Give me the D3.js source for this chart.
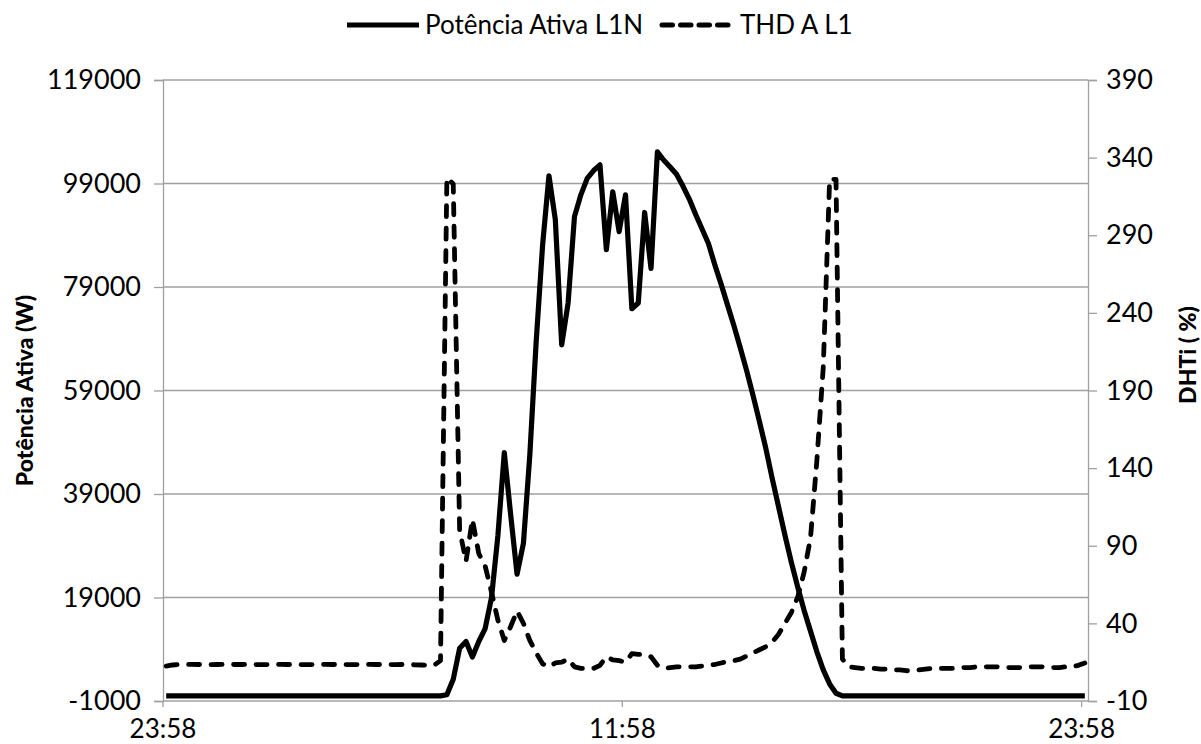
<!DOCTYPE html>
<html>
<head>
<meta charset="utf-8">
<script src="https://cdn.jsdelivr.net/npm/d3@7"></script>
<style>
  html, body { margin: 0; padding: 0; background: #ffffff; }
  svg { display: block; }
  text { font-family: Lato, "Open Sans", sans-serif; fill: #000; }
</style>
</head>
<body>
<svg id="chart" width="1201" height="744"></svg>
<script>
// Active power L1N (W), one reading every 10 minutes starting at 23:58
const powerL1N = [
  0, 0, 0, 0, 0, 0, 0, 0, 0, 0,
  0, 0, 0, 0, 0, 0, 0, 0, 0, 0,
  0, 0, 0, 0, 0, 0, 0, 0, 0, 0,
  0, 0, 0, 0, 0, 0, 0, 0, 0, 0,
  0, 0, 0, 0, 200, 3200, 9200, 10500, 7500, 10500,
  13000, 19000, 31000, 47000, 35000, 23500, 29500, 46500, 68500, 87000,
  100500, 92000, 67800, 75900, 92600, 96800, 100000, 101500, 102600, 86200,
  97400, 89700, 96800, 74800, 75900, 93400, 82600, 105100, 103500, 102200,
  100800, 98500, 96000, 93000, 90200, 87400, 83300, 79500, 75500, 71500,
  67200, 62800, 58000, 53000, 47800, 42000, 36500, 31000, 25800, 21000,
  16500, 12500, 8500, 5000, 2300, 500, 0, 0, 0, 0,
  0, 0, 0, 0, 0, 0, 0, 0, 0, 0,
  0, 0, 0, 0, 0, 0, 0, 0, 0, 0,
  0, 0, 0, 0, 0, 0, 0, 0, 0, 0,
  0, 0, 0, 0, 0
];

// Current THD on L1 (%), same 10-minute readings
const thdAL1 = [
  12.5, 13.2, 13.5, 13.5, 13.6, 13.5, 13.5, 13.4, 13.5, 13.6,
  13.5, 13.5, 13.5, 13.6, 13.5, 13.4, 13.5, 13.5, 13.6, 13.5,
  13.5, 13.5, 13.4, 13.5, 13.5, 13.6, 13.5, 13.5, 13.5, 13.4,
  13.5, 13.5, 13.6, 13.5, 13.5, 13.5, 13.4, 13.5, 13.5, 13.3,
  13.2, 13.0, 13.0, 16, 327, 323, 100, 80, 107, 85,
  77, 60, 42, 29, 38, 48, 40, 29, 21, 14,
  12, 14.5, 15, 17, 12, 11, 11, 11, 13, 18.5,
  16.5, 16, 15, 20.5, 20, 20, 18.5, 13, 11, 11.5,
  12, 12, 12, 12, 12.5, 13, 13.5, 14.5, 15.5, 16,
  17, 19, 21, 23, 25, 28, 33, 40, 47, 57,
  73, 95, 145, 205, 326, 326, 17, 12, 11.5, 11,
  11, 11, 10.5, 10.5, 10, 10, 9.5, 9.5, 10, 10.5,
  11, 11, 11, 11, 11, 11.5, 11.5, 12, 12, 12,
  12, 12, 11.5, 11.5, 11.5, 12, 12, 12, 12, 11.5,
  11.5, 12, 12, 13, 14.5
];

// Axis ticks
const timeTickIndex = [0, 72, 144];
const timeTickLabels = ["23:58", "11:58", "23:58"];
const powerTicks = [-1000, 19000, 39000, 59000, 79000, 99000, 119000];
const thdTicks = [-10, 40, 90, 140, 190, 240, 290, 340, 390];

const seriesNames = ["Potência Ativa L1N", "THD A L1"];
const leftTitle = "Potência Ativa (W)";
const rightTitle = "DHTi ( %)";

const svg = d3.select("#chart");
const W = 1201, H = 744;
const plot = { left: 163, right: 1088, top: 80, bottom: 701 };
const gridColor = "#a0a0a0";
const tickFont = 27;

svg.append("rect").attr("width", W).attr("height", H).attr("fill", "#fff");

const idx = d3.range(powerL1N.length);
const x = d3.scaleBand().domain(idx).range([plot.left, plot.right]).padding(0);
const xc = i => x(i) + x.bandwidth() / 2;
const yL = d3.scaleLinear().domain([-1000, 119000]).range([plot.bottom, plot.top]);
const yR = d3.scaleLinear().domain([-10, 390]).range([plot.bottom, plot.top]);

// Plain integer labels with an ASCII hyphen for negatives
const intLabel = d => String(Math.round(d));

// Horizontal gridlines on the power scale
svg.append("g")
  .selectAll("line")
  .data(powerTicks.slice(1))
  .join("line")
  .attr("x1", plot.left).attr("x2", plot.right)
  .attr("y1", d => yL(d)).attr("y2", d => yL(d))
  .attr("stroke", gridColor).attr("stroke-width", 1.3);

// Left axis
const leftAxis = svg.append("g")
  .attr("transform", `translate(${plot.left},0)`)
  .call(d3.axisLeft(yL).tickValues(powerTicks).tickSize(9).tickPadding(13).tickFormat(intLabel));

// Right axis
const rightAxis = svg.append("g")
  .attr("transform", `translate(${plot.right},0)`)
  .call(d3.axisRight(yR).tickValues(thdTicks).tickSize(9).tickPadding(9).tickFormat(intLabel));

// Bottom axis: ticks at category boundaries, labels under them
const bottomAxis = svg.append("g")
  .attr("transform", `translate(0,${plot.bottom})`);
bottomAxis.append("line")
  .attr("x1", plot.left).attr("x2", plot.right)
  .attr("stroke", gridColor).attr("stroke-width", 1.3);
bottomAxis.selectAll("line.tick")
  .data(timeTickIndex)
  .join("line")
  .attr("class", "tick")
  .attr("x1", d => x(d)).attr("x2", d => x(d))
  .attr("y1", 0).attr("y2", 6)
  .attr("stroke", gridColor).attr("stroke-width", 1.3);
bottomAxis.selectAll("text")
  .data(timeTickIndex)
  .join("text")
  .attr("x", d => x(d))
  .attr("y", 37)
  .attr("text-anchor", "middle")
  .attr("font-size", 26)
  .text((d, i) => timeTickLabels[i]);

[leftAxis, rightAxis].forEach(g => {
  g.select(".domain").attr("stroke", gridColor).attr("stroke-width", 1.3);
  g.selectAll(".tick line").attr("stroke", gridColor).attr("stroke-width", 1.3);
  g.selectAll(".tick text").attr("font-size", tickFont).attr("fill", "#000")
    .style("font-family", "Lato, 'Open Sans', sans-serif");
});

// Series lines
const powerLine = d3.line().x((d, i) => xc(i)).y(d => yL(d));
const thdLine = d3.line().x((d, i) => xc(i)).y(d => yR(d));

svg.append("path")
  .datum(thdAL1)
  .attr("d", thdLine)
  .attr("fill", "none")
  .attr("stroke", "#000")
  .attr("stroke-width", 4.8)
  .attr("stroke-linecap", "round")
  .attr("stroke-linejoin", "round")
  .attr("stroke-dasharray", "11,11.5");

svg.append("path")
  .datum(powerL1N)
  .attr("d", powerLine)
  .attr("fill", "none")
  .attr("stroke", "#000")
  .attr("stroke-width", 5.2)
  .attr("stroke-linejoin", "round");

// Axis titles
svg.append("text")
  .attr("transform", `translate(33,${(plot.top + plot.bottom) / 2}) rotate(-90)`)
  .attr("text-anchor", "middle")
  .attr("font-size", 23)
  .attr("font-weight", "900")
  .text(leftTitle);

svg.append("text")
  .attr("transform", `translate(1196,355) rotate(-90)`)
  .attr("text-anchor", "middle")
  .attr("font-size", 23)
  .attr("font-weight", "900")
  .text(rightTitle);

// Legend
const legend = svg.append("g");
const legendItems = [
  { name: seriesNames[0], x0: 345, dash: null },
  { name: seriesNames[1], x0: 660, dash: "10.5,8" }
];
legendItems.forEach(item => {
  const g = legend.append("g");
  g.append("line")
    .attr("x1", item.x0 + 2).attr("x2", item.x0 + 74)
    .attr("y1", 25).attr("y2", 25)
    .attr("stroke", "#000")
    .attr("stroke-width", 5)
    .attr("stroke-linecap", item.dash ? "round" : "butt")
    .attr("stroke-dasharray", item.dash);
  g.append("text")
    .attr("x", item.x0 + 80)
    .attr("y", 25)
    .attr("dy", "0.35em")
    .attr("font-size", 26)
    .text(item.name);
});
</script>
</body>
</html>
